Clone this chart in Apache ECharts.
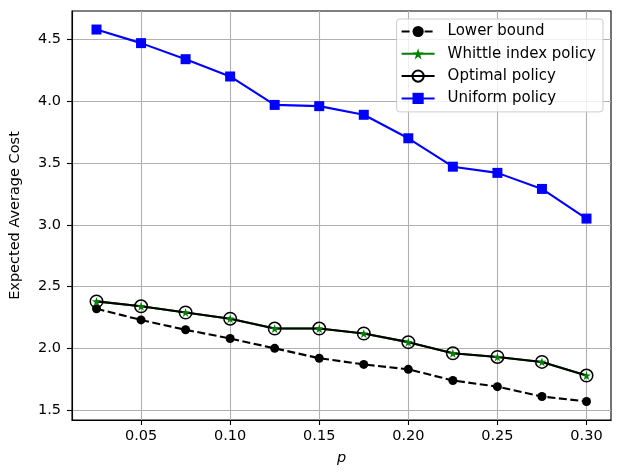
<!DOCTYPE html>
<html>
<head>
<meta charset="utf-8">
<script src="https://cdn.jsdelivr.net/npm/echarts@6/dist/echarts.min.js"></script>
<style>
  html, body { margin: 0; padding: 0; background: #fff; }
  #chart { width: 623px; height: 472px; }
</style>
</head>
<body>
<div id="chart"></div>
<script>
// p values on the x axis
const pValues = [0.025, 0.05, 0.075, 0.1, 0.125, 0.15, 0.175, 0.2, 0.225, 0.25, 0.275, 0.3]
// expected average cost per policy
const lowerBound = [2.32, 2.23, 2.15, 2.08, 2.00, 1.92, 1.87, 1.83, 1.74, 1.69, 1.61, 1.57]
const whittle = [2.38, 2.34, 2.29, 2.24, 2.16, 2.16, 2.12, 2.05, 1.96, 1.93, 1.89, 1.78]
const optimal = [2.38, 2.34, 2.29, 2.24, 2.16, 2.16, 2.12, 2.05, 1.96, 1.93, 1.89, 1.78]
const uniform = [4.58, 4.47, 4.34, 4.20, 3.97, 3.96, 3.89, 3.70, 3.47, 3.42, 3.29, 3.05]
// tick labels
const xTicks = [0.05, 0.10, 0.15, 0.20, 0.25, 0.30]
const yTicks = [1.5, 2.0, 2.5, 3.0, 3.5, 4.0, 4.5]

const font = 'DejaVu Sans'
const star = 'path://M0,-1000L224,-309L951,-309L363,118L588,809L0,382L-588,809L-363,118L-951,-309L-224,-309Z'
const pairs = ys => pValues.map((p, i) => [p, ys[i]])

const chart = echarts.init(document.getElementById('chart'), null, {renderer: 'canvas'})

const option = {
    animation: false,
    textStyle: {fontFamily: font},
    grid: {left: 63, right: 12, top: 11, bottom: 52, show: true, borderColor: '#000', borderWidth: 1.1, backgroundColor: 'transparent'},
    legend: {
        orient: 'vertical',
        right: 20,
        top: 19,
        padding: [5, 7, 6, 4],
        itemGap: 7.3,
        itemWidth: 33,
        itemHeight: 14,
        backgroundColor: 'rgba(255,255,255,0.8)',
        borderColor: '#cccccc',
        borderWidth: 1,
        borderRadius: 3,
        textStyle: {fontFamily: font, fontSize: 15, color: '#000', padding: [0, 0, 0, 8]},
        data: ['Lower bound', 'Whittle index policy', 'Optimal policy', 'Uniform policy']
    },
    xAxis: {
        type: 'value',
        min: 0.01125,
        max: 0.31375,
        name: 'p',
        nameLocation: 'middle',
        nameGap: 31,
        nameTextStyle: {fontFamily: font, fontSize: 14.5, fontStyle: 'italic', color: '#000'},
        axisLine: {show: true, onZero: false, lineStyle: {color: '#000', width: 1.1}},
        axisTick: {show: true, length: 5, lineStyle: {color: '#000', width: 1.1}, customValues: xTicks},
        axisLabel: {customValues: xTicks, margin: 9, fontSize: 14.5, color: '#000', fontFamily: font,
            formatter: v => v.toFixed(2)},
        splitLine: {show: true, lineStyle: {color: '#b0b0b0', width: 1.1}}
    },
    yAxis: {
        type: 'value',
        min: 1.42,
        max: 4.73,
        name: 'Expected Average Cost',
        nameLocation: 'middle',
        nameGap: 49,
        nameTextStyle: {fontFamily: font, fontSize: 14.5, color: '#000'},
        axisLine: {show: true, onZero: false, lineStyle: {color: '#000', width: 1.1}},
        axisTick: {show: true, length: 5, lineStyle: {color: '#000', width: 1.1}, customValues: yTicks},
        axisLabel: {customValues: yTicks, margin: 11, fontSize: 14.5, color: '#000', fontFamily: font,
            formatter: v => v.toFixed(1)},
        splitLine: {show: true, lineStyle: {color: '#b0b0b0', width: 1.1}}
    },
    series: [
        {
            name: 'Lower bound', type: 'line', data: pairs(lowerBound),
            symbol: 'circle', symbolSize: 9,
            itemStyle: {color: '#000'},
            lineStyle: {color: '#000', width: 2.1, type: [8, 3.5]}
        },
        {
            name: 'Whittle index policy', type: 'line', data: pairs(whittle),
            symbol: star, symbolSize: 9,
            itemStyle: {color: '#008000'},
            lineStyle: {color: '#008000', width: 2.1}
        },
        {
            name: 'Optimal policy', type: 'line', data: pairs(optimal),
            symbol: 'circle', symbolSize: 12.5,
            itemStyle: {color: 'rgba(0,0,0,0)', borderColor: '#000', borderWidth: 1.5},
            lineStyle: {color: '#000', width: 2.1}
        },
        {
            name: 'Uniform policy', type: 'line', data: pairs(uniform),
            symbol: 'rect', symbolSize: 10,
            itemStyle: {color: '#0000ff'},
            lineStyle: {color: '#0000ff', width: 2.1}
        }
    ]
}

chart.setOption(option)
</script>
</body>
</html>
